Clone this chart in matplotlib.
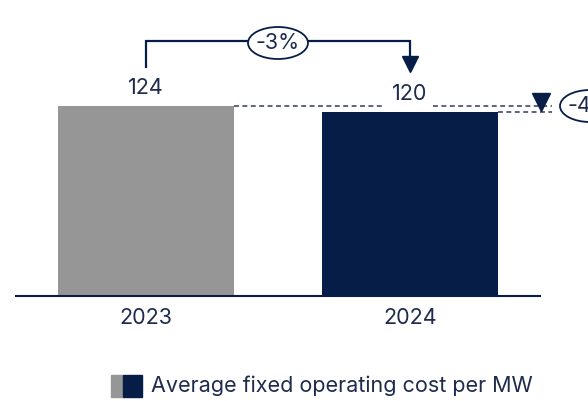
import matplotlib
matplotlib.use("Agg")
import matplotlib.pyplot as plt
from matplotlib.patches import Ellipse, Rectangle

categories = ["2023", "2024"]
values = [124, 120]
value_labels = ["124", "120"]
change_label = "-3%"
side_label = "-4%"
legend_label = "Average fixed operating cost per MW"

GRAY = "#969696"
NAVY = "#061d48"
TEXT = "#1e2b4d"
FONT = "Inter"
FS = 15.5

W, H = 588, 401
fig = plt.figure(figsize=(W / 100, H / 100), dpi=100)
plt.rcParams['font.family'] = [FONT, 'DejaVu Sans']

# axes placed in pixel layout
x0, x1, yb = 15, 541, 296
ax = fig.add_axes([x0 / W, (H - yb) / H, (x1 - x0) / W, yb / H])
pxu = 190 / 124.0  # pixels per unit
ax.set_ylim(0, yb / pxu)
sp = 264.0
ax.set_xlim(-(146 - x0) / sp, 1 + (x1 - 410) / sp)
ax.axis("off")

xs = list(range(len(categories)))
bw = 176 / sp
ax.bar(xs, values, width=bw, color=[GRAY, NAVY], zorder=2)

# baseline
ax.plot([ax.get_xlim()[0], ax.get_xlim()[1]], [0, 0], color=NAVY, lw=1.5,
        clip_on=False, zorder=3, solid_capstyle="butt")

def ypx(p):
    return (yb - p) / pxu

def xpx(p):
    return (p - 146) / sp

# category labels
for x, c in zip(xs, categories):
    ax.text(x, ypx(318), c, ha="center", va="center", fontsize=FS, color=TEXT)

# value labels
for x, v, lab in zip(xs, values, value_labels):
    ax.text(x, v + 11.8, lab, ha="center", va="center", fontsize=FS, color=TEXT,
            zorder=4)

# dashed reference lines
dash = dict(color="#2e3b5c", lw=1.1, ls=(0, (3.2, 2.3)), clip_on=False, zorder=3)
ax.plot([bw / 2, xpx(385)], [values[0], values[0]], **dash)
ax.plot([xpx(433), xpx(552)], [values[0], values[0]], **dash)
ax.plot([1 + bw / 2, xpx(552)], [values[1], values[1]], **dash)
ax.plot([xpx(541)], [ypx(102)], marker="v", ms=12.5, color=NAVY, clip_on=False, zorder=4)

# bracket
top = ypx(41)
ax.plot([0, 0, 1, 1], [ypx(67), top, top, ypx(58)], color=NAVY, lw=1.6,
        clip_on=False, zorder=3, solid_joinstyle="miter")
ax.plot([1], [ypx(64)], marker="v", ms=12, color=NAVY, clip_on=False, zorder=4)

# ellipses
for cx, cy, lab in [(xpx(278), ypx(43), change_label), (xpx(590), ypx(106), side_label)]:
    e = Ellipse((cx, cy), 60 / sp, 32 / pxu, facecolor="white", edgecolor=NAVY,
                lw=1.3, clip_on=False, zorder=5)
    ax.add_patch(e)
    ax.text(cx, cy, lab, ha="center", va="center", fontsize=FS, color=TEXT,
            zorder=6, clip_on=False)

# legend
fig.patches.append(Rectangle((111 / W, 1 - 397 / H), 12 / W, 22 / H,
                             transform=fig.transFigure, color=GRAY))
fig.patches.append(Rectangle((123 / W, 1 - 397 / H), 19 / W, 22 / H,
                             transform=fig.transFigure, color=NAVY))
fig.text(151 / W, 1 - 386 / H, legend_label, ha="left", va="center",
         fontsize=FS, color=TEXT)

fig.savefig("out.png", dpi=100)
